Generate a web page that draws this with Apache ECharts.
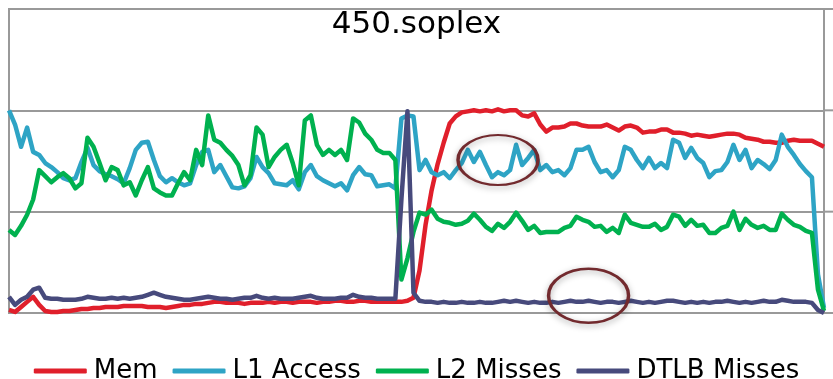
<!DOCTYPE html>
<html>
<head>
<meta charset="utf-8">
<title>450.soplex</title>
<script src="https://cdn.jsdelivr.net/npm/echarts@6/dist/echarts.min.js"></script>
<style>
  html, body { margin: 0; padding: 0; background: #fff; }
  #chart { width: 833px; height: 379px; }
</style>
</head>
<body>
<div id="chart"></div>
<script>
  // series names (legend order)
  const seriesNames = ['Mem', 'L1 Access', 'L2 Misses', 'DTLB Misses'];
  const seriesColors = ['#e01f2b', '#2ea4c5', '#00b14f', '#474a7c'];

  // values, one per sample, scale 0..300
  const memVals = [
    3, 1, 6, 11, 16, 8, 2, 1, 1, 2, 2, 3, 4, 4, 5, 5, 6, 6, 6, 7,
    7, 7, 7, 6, 6, 6, 5, 6, 7, 8, 8, 9, 9, 10, 11, 11, 10, 10, 10, 9,
    10, 10, 10, 11, 10, 11, 11, 10, 11, 11, 11, 10, 11, 11, 12, 12, 11, 11, 12, 12,
    11, 11, 11, 11, 11, 11, 12, 15, 42, 87, 121, 147, 168, 187, 194, 198, 199, 200, 199, 200,
    199, 201, 199, 200, 200, 195, 194, 197, 186, 179, 183, 183, 184, 187, 187, 185, 184, 184, 184, 186,
    183, 180, 184, 185, 183, 178, 179, 179, 181, 181, 178, 178, 177, 175, 176, 175, 174, 175, 176, 177,
    177, 176, 173, 172, 171, 169, 169, 168, 168, 170, 171, 170, 170, 170, 167, 164
  ];
  const l1Vals = [
    200, 186, 164, 183, 159, 156, 148, 144, 139, 133, 131, 133, 149, 163, 146, 140, 137, 135, 132, 128,
    143, 161, 168, 169, 151, 135, 129, 133, 129, 126, 128, 146, 159, 161, 139, 146, 135, 124, 123, 125,
    133, 154, 144, 138, 128, 127, 126, 131, 122, 139, 146, 135, 131, 128, 125, 128, 121, 136, 144, 137,
    136, 125, 126, 127, 123, 192, 195, 194, 141, 151, 139, 136, 139, 133, 141, 148, 161, 149, 159, 146,
    134, 139, 136, 141, 166, 146, 153, 161, 141, 146, 139, 141, 136, 143, 161, 161, 164, 149, 139, 141,
    134, 141, 164, 161, 151, 143, 153, 143, 148, 143, 171, 168, 153, 163, 153, 148, 134, 140, 141, 149,
    166, 151, 161, 143, 151, 147, 142, 151, 176, 164, 156, 147, 140, 134, 38, 5
  ];
  const l2Vals = [
    82, 77, 86, 97, 112, 141, 135, 129, 134, 138, 133, 123, 128, 173, 164, 148, 131, 144, 141, 126,
    129, 116, 131, 144, 123, 119, 116, 116, 128, 139, 131, 161, 146, 195, 171, 168, 161, 155, 146, 126,
    136, 183, 176, 144, 154, 161, 166, 148, 126, 190, 195, 166, 156, 161, 156, 161, 151, 192, 188, 177,
    171, 161, 158, 158, 151, 33, 54, 80, 99, 97, 102, 93, 90, 89, 87, 88, 91, 98, 92, 85,
    81, 88, 84, 90, 99, 91, 82, 86, 79, 80, 80, 80, 84, 86, 95, 92, 90, 85, 86, 80,
    84, 79, 97, 89, 87, 85, 85, 88, 82, 85, 97, 95, 86, 92, 86, 87, 79, 79, 84, 86,
    100, 82, 93, 87, 84, 86, 82, 82, 98, 92, 87, 85, 81, 79, 23, 2
  ];
  const dtlbVals = [
    16, 8, 13, 16, 23, 25, 15, 14, 14, 13, 13, 13, 14, 16, 15, 14, 14, 15, 14, 15,
    14, 15, 16, 18, 20, 18, 16, 15, 14, 13, 13, 14, 15, 16, 15, 14, 14, 13, 14, 15,
    15, 17, 15, 14, 15, 14, 14, 14, 15, 16, 17, 15, 14, 14, 14, 15, 15, 18, 16, 15,
    15, 14, 14, 14, 14, 112, 199, 20, 12, 11, 11, 10, 11, 10, 10, 11, 10, 10, 11, 10,
    10, 11, 12, 11, 12, 11, 10, 11, 10, 10, 11, 10, 11, 12, 11, 11, 12, 11, 10, 11,
    11, 10, 11, 12, 11, 10, 11, 10, 11, 12, 12, 11, 10, 11, 10, 11, 10, 11, 11, 12,
    11, 10, 11, 10, 11, 12, 11, 11, 13, 12, 11, 11, 11, 10, 3, 0
  ];

  // sample numbers for the x axis
  const samples = memVals.map((v, i) => String(i + 1));

  // circled regions: [sample index, value, rx, ry]
  const circles = [
    [81, 151, 40, 25],
    [96, 17, 40, 27]
  ];

  const chartDiv = document.getElementById('chart');
  const myChart = echarts.init(chartDiv, null, { renderer: 'canvas' });

  const allVals = [memVals, l1Vals, l2Vals, dtlbVals];

  const option = {
    animation: false,
    title: {
      text: '450.soplex',
      left: 'center',
      top: 4,
      textStyle: {
        fontFamily: 'DejaVu Sans',
        fontSize: 31,
        fontWeight: 'normal',
        color: '#000'
      }
    },
    legend: {
      data: seriesNames,
      left: 'center',
      top: 353,
      icon: 'roundRect',
      itemWidth: 53,
      itemHeight: 5,
      itemGap: 15,
      textStyle: {
        fontFamily: 'DejaVu Sans',
        fontSize: 26,
        color: '#000',
        padding: [0, 0, 0, 2]
      }
    },
    grid: {
      left: 9,
      right: 9,
      top: 9,
      bottom: 66,
      show: true,
      borderColor: '#999',
      borderWidth: 2
    },
    xAxis: {
      type: 'category',
      data: samples,
      boundaryGap: false,
      axisLine: { show: false },
      axisTick: { show: false },
      axisLabel: { show: false },
      splitLine: { show: false }
    },
    yAxis: {
      type: 'value',
      min: 0,
      max: 300,
      interval: 100,
      axisLine: { show: false },
      axisTick: { show: false },
      axisLabel: { show: false },
      splitLine: { lineStyle: { color: '#999', width: 2 } }
    },
    series: seriesNames.map((name, k) => ({
      name: name,
      type: 'line',
      data: allVals[k],
      color: seriesColors[k],
      showSymbol: false,
      lineStyle: { width: 4.5, color: seriesColors[k], join: 'round' }
    }))
  };

  myChart.setOption(option);

  // grid lines run on past the frame to the right edge, plus the circled areas
  const extra = [];
  [0, 100, 200, 300].forEach(v => {
    const y = myChart.convertToPixel({ yAxisIndex: 0 }, v);
    extra.push({
      type: 'line',
      shape: { x1: 824, y1: y, x2: 833, y2: y },
      style: { stroke: '#999', lineWidth: 2 },
      silent: true
    });
  });
  circles.forEach(c => {
    const p = myChart.convertToPixel({ xAxisIndex: 0, yAxisIndex: 0 }, [c[0], c[1]]);
    extra.push({
      type: 'circle',
      x: p[0],
      y: p[1],
      scaleY: c[3] / c[2],
      shape: { cx: 0, cy: 0, r: c[2] },
      style: {
        fill: 'none',
        stroke: '#722a2e',
        lineWidth: 3.5,
        strokeNoScale: true,
        shadowBlur: 6,
        shadowOffsetY: 2,
        shadowColor: 'rgba(0,0,0,0.35)'
      },
      z: 100,
      silent: true
    });
  });
  myChart.setOption({ graphic: extra });
</script>
</body>
</html>
